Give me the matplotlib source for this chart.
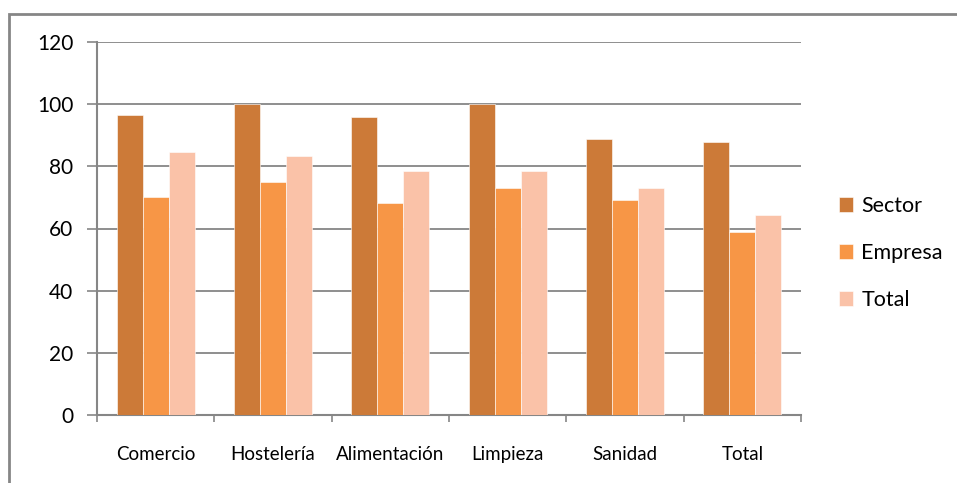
import matplotlib.pyplot as plt
import numpy as np
from matplotlib.patches import Rectangle

plt.rcParams["font.family"] = ["Lato", "DejaVu Sans"]

CATEGORIES = ["Comercio", "Hostelería", "Alimentación", "Limpieza", "Sanidad", "Total"]
SECTOR = [96.6, 100.0, 95.9, 100.0, 88.8, 87.8]
EMPRESA = [70.1, 75.0, 68.2, 73.1, 69.2, 58.9]
TOTAL = [84.6, 83.3, 78.5, 78.5, 72.9, 64.4]
SERIES = [("Sector", SECTOR, "#CC7A38"), ("Empresa", EMPRESA, "#F79646"), ("Total", TOTAL, "#FAC2A8")]

W, H = 957, 483
fig = plt.figure(figsize=(W / 100, H / 100), dpi=100)

# outer chart border (only top/left visible in the reference)
fig.patches.append(Rectangle((9 / W, -0.1), 1.2, (H - 14) / H + 0.1, transform=fig.transFigure,
                             fill=False, edgecolor="#868686", linewidth=2))

ax = fig.add_axes([97 / W, (H - 415) / H, 704 / W, 373 / H])

x = np.arange(len(CATEGORIES))
width = 0.222
for i, (name, values, color) in enumerate(SERIES):
    ax.bar(x + (i - 1) * width, values, width=width, color=color, edgecolor="white",
           linewidth=0.4, label=name, zorder=3)

ax.set_xlim(-0.5, len(CATEGORIES) - 0.5)
ax.set_ylim(0, 120)
ax.set_yticks(range(0, 121, 20))
ax.yaxis.grid(True, color="#868686", linewidth=1.3, zorder=0)
ax.set_axisbelow(True)

ax.set_xticks(np.arange(-0.5, len(CATEGORIES)), [""] * (len(CATEGORIES) + 1))
ax.set_xticks(x, CATEGORIES, minor=True)
ax.tick_params(axis="x", which="major", length=5, width=1.2, color="#868686", direction="out")
ax.tick_params(axis="x", which="minor", length=0, pad=22, labelsize=13.5)
ax.tick_params(axis="y", length=7, width=1.2, color="#868686", labelsize=15, pad=10)

for side in ("top", "right"):
    ax.spines[side].set_visible(False)
for side in ("left", "bottom"):
    ax.spines[side].set_color("#868686")
    ax.spines[side].set_linewidth(1.5)

fig.legend(loc="center left", bbox_to_anchor=(830 / W, (H - 253) / H), frameon=False,
           fontsize=15.5, handlelength=0.65, handleheight=0.65, handletextpad=0.4,
           labelspacing=1.25, borderaxespad=0)

fig.savefig("out.png", dpi=100, facecolor="white")
